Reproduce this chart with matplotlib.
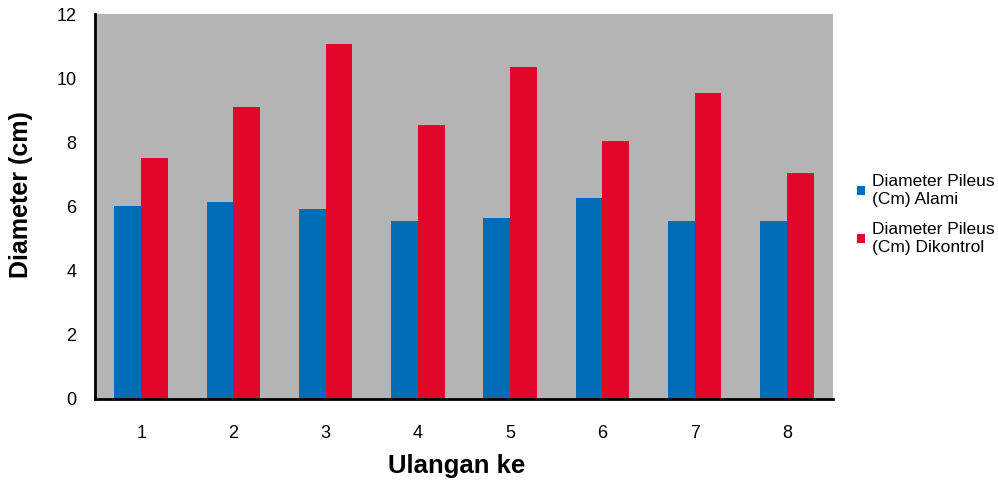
import numpy as np
import matplotlib.pyplot as plt

plt.rcParams['font.family'] = ['Liberation Sans', 'DejaVu Sans']

# data
ulangan = ['1', '2', '3', '4', '5', '6', '7', '8']
alami = [6.0, 6.15, 5.92, 5.55, 5.65, 6.25, 5.55, 5.55]
dikontrol = [7.5, 9.1, 11.05, 8.55, 10.35, 8.05, 9.55, 7.05]
series_names = ['Diameter Pileus\n(Cm) Alami', 'Diameter Pileus\n(Cm) Dikontrol']

blue = '#006cb6'
red = '#e0072a'

fig = plt.figure(figsize=(9.98, 4.83), dpi=100)
ax = fig.add_axes([0.0952, 0.174, 0.7395, 0.797])
ax.set_facecolor('#b4b4b4')

x = np.arange(len(ulangan))
w = 0.29
ax.bar(x - w / 2, alami, w, color=blue, label=series_names[0])
ax.bar(x + w / 2, dikontrol, w, color=red, label=series_names[1])

ax.set_xlim(-0.5, len(ulangan) - 0.5)
ax.set_ylim(0, 12)
ax.set_yticks(np.arange(0, 13, 2))
ax.set_xticks(x)
ax.set_xticklabels(ulangan)
ax.tick_params(length=0, labelsize=13)
ax.tick_params(axis='y', pad=13.5)
ax.tick_params(axis='x', pad=19)

for s in ['top', 'right']:
    ax.spines[s].set_visible(False)
for s in ['left', 'bottom']:
    ax.spines[s].set_linewidth(2)
    ax.spines[s].set_color('black')

ax.set_xlabel('Ulangan ke', fontsize=18.5, fontweight='bold')
ax.set_ylabel('Diameter (cm)', fontsize=18, fontweight='bold')
ax.xaxis.set_label_coords(0.4905, -0.142)
ax.yaxis.set_label_coords(-0.084, 0.53)

fig.legend(loc='center left', bbox_to_anchor=(0.843, 0.556), frameon=False,
           fontsize=12.5, handlelength=0.45, handleheight=0.45, handletextpad=0.4,
           labelspacing=0.9)

fig.savefig('out.png', dpi=100)
